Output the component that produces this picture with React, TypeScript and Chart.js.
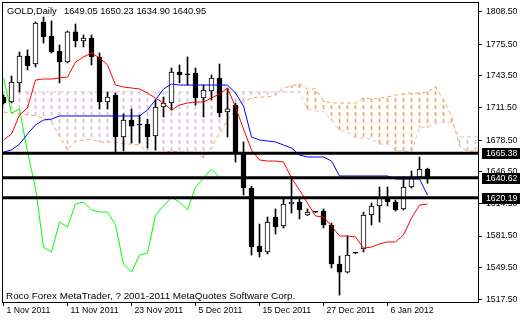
import React, { useEffect, useRef } from "react";
import { Chart, registerables } from "chart.js";

Chart.register(...registerables);

// ---- Candles (bar index 0 = 1 Nov 2011) ----
const opens = [
  1722.2, 1717.1, 1736.4, 1763.7, 1755.6, 1798.1, 1783.9, 1768.7, 1757.6, 1788.0,
  1778.9, 1781.9, 1762.7, 1717.1, 1724.2, 1681.7, 1698.9, 1694.9, 1694.9, 1682.7,
  1712.1, 1716.1, 1747.5, 1745.5, 1746.5, 1721.2, 1728.3, 1741.4, 1707.0, 1714.1,
  1665.5, 1630.1, 1571.4, 1565.4, 1600.8, 1591.7, 1613.9, 1616.0, 1602.8, 1605.8,
  1606.9, 1592.7, 1553.2, 1545.1, 1564.3, 1568.4, 1602.8, 1611.9, 1621.0, 1616.0,
  1608.9, 1631.1, 1641.2, 1649.05,
];
const highs = [
  1724.2, 1743.4, 1767.7, 1769.8, 1798.1, 1803.1, 1799.1, 1774.8, 1789.0, 1796.1,
  1784.9, 1784.9, 1766.7, 1727.3, 1726.2, 1705.0, 1710.1, 1704.0, 1699.9, 1719.2,
  1722.2, 1751.5, 1754.6, 1762.7, 1751.5, 1734.3, 1744.5, 1755.6, 1731.3, 1716.1,
  1676.7, 1632.0, 1593.7, 1600.8, 1608.9, 1620.0, 1641.2, 1620.0, 1608.9, 1606.5,
  1608.9, 1594.7, 1561.3, 1581.6, 1564.8, 1605.8, 1614.9, 1631.1, 1631.1, 1618.0,
  1641.2, 1647.3, 1661.5, 1650.23,
];
const lows = [
  1715.0, 1716.1, 1727.3, 1749.5, 1752.6, 1776.8, 1766.7, 1736.4, 1756.6, 1772.8,
  1772.8, 1754.6, 1710.1, 1710.1, 1666.5, 1667.6, 1675.7, 1675.7, 1670.6, 1668.6,
  1702.0, 1709.0, 1736.4, 1734.3, 1714.1, 1702.0, 1719.2, 1702.0, 1681.7, 1656.4,
  1623.0, 1562.3, 1560.3, 1563.4, 1583.6, 1589.7, 1604.8, 1598.8, 1602.3, 1605.3,
  1589.7, 1549.2, 1521.8, 1544.1, 1564.0, 1565.4, 1592.7, 1595.7, 1611.9, 1606.9,
  1607.9, 1630.1, 1640.2, 1634.9,
];
const closes = [
  1716.1, 1737.4, 1763.7, 1753.6, 1797.1, 1782.9, 1767.7, 1757.6, 1788.0, 1778.9,
  1781.9, 1762.7, 1717.1, 1722.2, 1681.7, 1698.9, 1692.8, 1693.9, 1681.7, 1712.1,
  1716.1, 1747.5, 1744.5, 1744.5, 1721.2, 1729.3, 1741.4, 1706.0, 1710.1, 1666.5,
  1630.1, 1570.4, 1565.4, 1595.7, 1590.7, 1613.9, 1616.0, 1607.9, 1605.8, 1605.9,
  1592.7, 1553.2, 1545.1, 1562.3, 1564.4, 1602.8, 1611.9, 1621.0, 1616.0, 1607.9,
  1631.1, 1640.2, 1649.3, 1640.95,
];

// ---- Ichimoku ----
const tenkan = [
  1678.7, 1684.8, 1704.0, 1711.1, 1739.4, 1740.4, 1740.4, 1741.4, 1742.4, 1757.6,
  1762.7, 1766.7, 1761.7, 1754.6, 1734.3, 1732.3, 1731.3, 1730.3, 1726.2, 1721.2,
  1716.1, 1709.0, 1714.1, 1716.1, 1717.1, 1717.1, 1721.2, 1725.2, 1731.3, 1712.1,
  1689.8, 1668.6, 1658.5, 1657.4, 1657.4, 1656.4, 1640.2, 1628.1, 1614.9, 1601.8,
  1600.8, 1591.7, 1581.6, 1581.6, 1580.6, 1569.4, 1570.4, 1573.5, 1575.5, 1575.5,
  1582.6, 1599.8, 1612.9, 1613.9,
];
const kijun = [
  1666.5, 1668.6, 1674.6, 1684.8, 1693.9, 1698.9, 1699.9, 1703.0, 1703.0, 1703.0,
  1703.0, 1703.0, 1703.0, 1703.0, 1703.0, 1703.0, 1703.0, 1703.0, 1709.0, 1719.2,
  1730.3, 1735.3, 1734.3, 1734.3, 1734.3, 1734.3, 1734.3, 1734.3, 1734.3, 1726.2,
  1713.1, 1681.7, 1678.7, 1677.7, 1676.7, 1673.6, 1670.6, 1663.5, 1661.5, 1661.5,
  1661.5, 1657.4, 1642.3, 1642.3, 1642.3, 1642.3, 1642.3, 1642.3, 1642.3, 1639.2,
  1639.2, 1639.2, 1639.2, 1623.0,
];
const spanA = [
  1707.0, 1706.0, 1705.0, 1704.0, 1703.0, 1700.9, 1696.9, 1682.7, 1668.6, 1677.7,
  1678.7, 1679.7, 1676.7, 1676.7, 1676.7, 1674.6, 1674.6, 1673.6, 1665.5, 1665.5,
  1665.5, 1667.6, 1666.5, 1666.5, 1665.5, 1660.5, 1670.6, 1685.8, 1698.9, 1709.0,
  1717.1, 1721.2, 1722.2, 1722.2, 1724.2, 1731.3, 1733.3, 1735.3, 1730.3, 1730.3,
  1718.1, 1716.1, 1716.1, 1716.1, 1716.1, 1721.2, 1720.2, 1721.2, 1722.2, 1724.2,
  1725.2, 1726.2, 1726.2, 1727.3, 1732.3, 1719.2, 1703.0, 1672.6, 1667.6, 1667.6,
  1667.6,
];
const spanB = [
  1727.3, 1727.3, 1727.3, 1727.3, 1727.3, 1727.3, 1727.3, 1727.3, 1727.3, 1727.3,
  1727.3, 1727.3, 1727.3, 1727.3, 1727.3, 1727.3, 1727.3, 1727.3, 1727.3, 1727.3,
  1727.3, 1727.3, 1727.3, 1727.3, 1727.3, 1727.3, 1727.3, 1727.3, 1727.3, 1727.3,
  1727.3, 1727.3, 1727.3, 1727.3, 1727.3, 1727.3, 1727.3, 1727.3, 1710.1, 1708.0,
  1708.0, 1698.9, 1688.8, 1686.8, 1680.7, 1680.7, 1679.7, 1674.6, 1674.6, 1667.6,
  1667.6, 1666.5, 1691.8, 1691.8, 1694.9, 1696.9, 1696.9, 1681.7, 1681.7, 1681.7,
  1681.7,
];
const chikouShift = 26;

// ---- Horizontal levels ----
const levels = [1665.38, 1640.62, 1620.19];

// ---- Axis ticks ----
const priceTicks = [1808.5, 1775.5, 1743.5, 1711.5, 1678.5, 1646.5, 1614.5, 1581.5, 1549.5, 1517.5];
const dateTicks = [0, 8, 16, 24, 32, 40, 48];
const dateLabels = ["1 Nov 2011", "11 Nov 2011", "23 Nov 2011", "5 Dec 2011", "15 Dec 2011", "27 Dec 2011", "6 Jan 2012"];

const titleSymbol = "GOLD,Daily";
const titleOHLC = "1649.05 1650.23 1634.90 1640.95";
const footerText = "Roco Forex MetaTrader, ? 2001-2011 MetaQuotes Software Corp.";

const X_MIN = -0.1875;
const X_MAX = 59.3125;
const Y_MIN = 1514.8;
const Y_MAX = 1818.3;
const FONT = '"Liberation Sans", Arial, sans-serif';

function hatchPattern(color: string) {
  const c = document.createElement("canvas");
  c.width = 1;
  c.height = 7;
  const g = c.getContext("2d")!;
  g.fillStyle = color;
  g.fillRect(0, 0, 1, 4);
  return g.createPattern(c, "repeat");
}

export default function App() {
  const ref = useRef<HTMLCanvasElement | null>(null);

  useEffect(() => {
    const canvas = ref.current;
    if (!canvas) return;

    const bodyColors = opens.map((o, i) => (closes[i] - o > 0.5 ? "#ffffff" : "#000000"));
    const wickData = opens.map((_, i) => ({ x: i, y: [lows[i], highs[i]] }));
    const bodyData = opens.map((o, i) => ({ x: i, y: [o, closes[i]] }));

    const orangePat = hatchPattern("#f4a460");
    const thistlePat = hatchPattern("#d8bfd8");
    const cloudData = spanA.map((a, i) => ({ x: i, y: [Math.min(a, spanB[i]), Math.max(a, spanB[i])] }));
    const cloudColors = spanA.map((a, i) => (a >= spanB[i] ? orangePat : thistlePat));

    const line = (arr: number[]) => arr.map((v, i) => ({ x: i, y: v }));
    const chikou = closes.slice(chikouShift).map((v, i) => ({ x: i, y: v }));

    const overlay = {
      id: "overlay",
      afterDatasetsDraw(chart: any) {
        const { ctx, chartArea: a } = chart;
        ctx.save();
        ctx.strokeStyle = "#000";
        ctx.lineWidth = 1;
        ctx.strokeRect(a.left + 0.5, a.top + 0.5, a.right - a.left, a.bottom - a.top);
        ctx.restore();
      },
      afterDraw(chart: any) {
        const { ctx } = chart;
        const ys = chart.scales.y;
        ctx.save();
        levels.forEach((l) => {
          const py = Math.round(ys.getPixelForValue(l));
          ctx.fillStyle = "#000";
          ctx.fillRect(482, py - 5, 38, 11);
          ctx.fillStyle = "#fff";
          ctx.font = `8.7px ${FONT}`;
          ctx.textBaseline = "middle";
          ctx.textAlign = "left";
          ctx.fillText(l.toFixed(2), 486, py + 0.5);
        });
        ctx.fillStyle = "#000";
        ctx.textBaseline = "alphabetic";
        ctx.font = `9.3px ${FONT}`;
        ctx.fillText(titleSymbol, 7, 14);
        ctx.fillText(titleOHLC, 64, 14);
        ctx.font = `9.9px ${FONT}`;
        ctx.fillText(footerText, 6, 299);
        ctx.restore();
      },
    };

    const chart = new Chart(canvas, {
      type: "bar",
      data: {
        datasets: [
          {
            type: "line",
            data: line(tenkan),
            borderColor: "#ff0000",
            borderWidth: 1,
            pointRadius: 0,
            order: 10,
            clip: 0,
          } as any,
          {
            type: "line",
            data: line(kijun),
            borderColor: "#0000ff",
            borderWidth: 1,
            pointRadius: 0,
            order: 10,
            clip: 0,
          },
          {
            type: "line",
            data: chikou,
            borderColor: "#00ff00",
            borderWidth: 1,
            pointRadius: 0,
            order: 10,
            clip: 0,
          },
          ...levels.map((l) => ({
            type: "line",
            data: [
              { x: X_MIN - 1, y: l },
              { x: X_MAX + 1, y: l },
            ],
            borderColor: "#000000",
            borderWidth: 3,
            pointRadius: 0,
            order: 0,
            clip: 0,
          })),
          {
            type: "line",
            data: line(spanA),
            borderColor: "#f4a460",
            borderWidth: 1,
            borderDash: [4, 3],
            pointRadius: 0,
            order: 45,
            clip: 0,
          },
          {
            type: "line",
            data: line(spanB),
            borderColor: "#d8bfd8",
            borderWidth: 1,
            borderDash: [4, 3],
            pointRadius: 0,
            order: 45,
            clip: 0,
          },
          {
            type: "bar",
            data: cloudData,
            backgroundColor: cloudColors,
            borderWidth: 0,
            barThickness: 1,
            grouped: false,
            order: 50,
            clip: 0,
          },
          {
            type: "bar",
            data: wickData,
            backgroundColor: "#000000",
            borderWidth: 0,
            barThickness: 1,
            grouped: false,
            order: 40,
            clip: 0,
          },
          {
            type: "bar",
            data: bodyData,
            backgroundColor: bodyColors,
            borderColor: "#000000",
            borderWidth: 1,
            borderSkipped: false,
            barThickness: 5,
            minBarLength: 1,
            grouped: false,
            order: 30,
            clip: 0,
          },
        ] as any,
      },
      options: {
        responsive: false,
        maintainAspectRatio: false,
        devicePixelRatio: 1,
        animation: false,
        layout: { padding: { left: 2, top: 2, right: 0, bottom: 0 } },
        plugins: { legend: { display: false }, tooltip: { enabled: false } },
        events: [],
        scales: {
          x: {
            type: "linear",
            position: "bottom",
            min: X_MIN,
            max: X_MAX,
            offset: false,
            afterBuildTicks: (s: any) => {
              s.ticks = dateTicks.map((v) => ({ value: v }));
            },
            afterFit: (s: any) => {
              s.height = 18;
              s.paddingLeft = 0;
              s.paddingRight = 0;
            },
            ticks: {
              autoSkip: false,
              maxRotation: 0,
              minRotation: 0,
              align: "start",
              labelOffset: 3,
              padding: -1,
              color: "#000",
              font: { family: FONT, size: 8.7 },
              callback: (_v: any, i: number) => dateLabels[i],
            },
            grid: { offset: false, drawOnChartArea: false, drawTicks: true, tickLength: 4, color: "#000", lineWidth: 1 },
            border: { display: false },
          },
          y: {
            type: "linear",
            position: "right",
            min: Y_MIN,
            max: Y_MAX,
            beginAtZero: false,
            afterBuildTicks: (s: any) => {
              s.ticks = priceTicks.map((v) => ({ value: v }));
            },
            afterFit: (s: any) => {
              s.width = 42;
              s.paddingTop = 0;
              s.paddingBottom = 0;
            },
            ticks: {
              padding: 4,
              color: "#000",
              font: { family: FONT, size: 8.7 },
              callback: (v: any) => Number(v).toFixed(2),
            },
            grid: { drawOnChartArea: false, drawTicks: true, tickLength: 4, color: "#000", lineWidth: 1 },
            border: { display: false },
          },
        },
      } as any,
      plugins: [overlay],
    });

    return () => chart.destroy();
  }, []);

  return (
    <div style={{ position: "fixed", left: 0, top: 0, width: 520, height: 320, background: "#fff" }}>
      <canvas ref={ref} width={520} height={320} style={{ display: "block", width: 520, height: 320 }} />
    </div>
  );
}
